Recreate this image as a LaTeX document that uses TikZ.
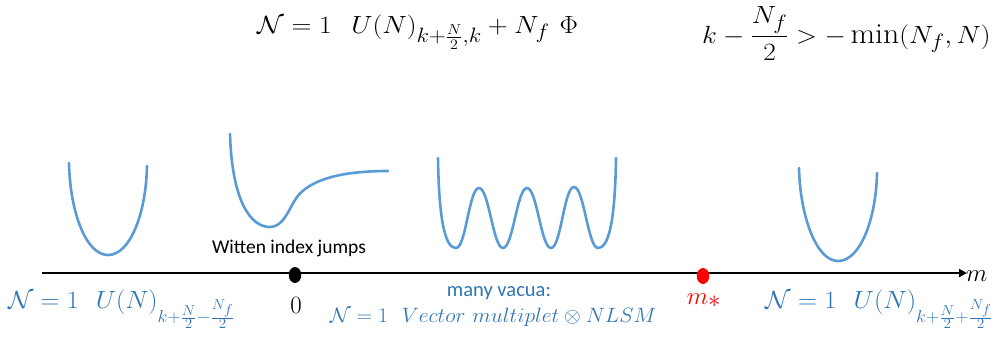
\documentclass[tikz,border=0pt]{standalone}
\usepackage{amsmath}
\usepackage{graphicx}
\usepackage{fontspec}
\newfontfamily\carlito{Carlito}
\usetikzlibrary{arrows.meta,shapes.geometric}
\definecolor{curveblue}{HTML}{5B9BD5}
\definecolor{textblue}{HTML}{2E75B6}
\definecolor{dotred}{HTML}{FF0000}
\tikzset{
  pot/.style={draw=curveblue,line width=2.6pt,line cap=round},
  axisline/.style={line width=2.2pt,-{Triangle[length=8pt,width=8pt]}},
  dotnode/.style={ellipse,inner sep=0pt,minimum width=12.5pt,minimum height=16pt},
  mathtop/.style={font=\fontsize{29}{34}\selectfont,anchor=base west,inner sep=0pt},
  bluelabel/.style={font=\fontsize{27}{32}\selectfont,text=textblue,anchor=base west,inner sep=0pt},
}
\begin{document}
\begin{tikzpicture}[x=1pt,y=-1pt]
\useasboundingbox (0,0) rectangle (999,341);
% top formulas
\node[mathtop] (f1) at (257,33) {\scalebox{1.11}[1]{$\mathcal{N}=1\ \ U(N)_{k+\frac{N}{2},k}+N_f\ \Phi$}};
\node[mathtop] (f2) at (702,43) {\scalebox{1.1}[1]{$k-\dfrac{N_f}{2}>-\min(N_f,N)$}};
% axis
\coordinate (axstart) at (42,273);
\coordinate (axend) at (967,273);
\draw[axisline] (axstart) -- (axend);
\node[anchor=west,inner sep=0pt,font=\fontsize{32}{36}\selectfont] (mlab) at (966,276) {$m$};
% dots
\node[dotnode,fill=black] (zero) at (295,275) {};
\node[dotnode,fill=dotred] (mstar) at (703,276) {};
\node[anchor=base,inner sep=0pt,font=\fontsize{31}{34}\selectfont] (zlab) at (296,313) {$0$};
\node[anchor=base,inner sep=0pt,text=dotred,font=\fontsize{33}{36}\selectfont] (mslab) at (704,304) {$m_*$};
% labels
\node[anchor=center,inner sep=0pt,font=\carlito\fontsize{19.5}{22}\selectfont] (witten) at (289,248) {Witten index jumps};
\node[anchor=center,inner sep=0pt,text=textblue,font=\carlito\fontsize{20.5}{24}\selectfont] (vacua) at (499,293) {many vacua:};
\node[anchor=base,inner sep=0pt,text=textblue,font=\fontsize{22}{26}\selectfont] (vec) at (493,322) {\scalebox{1.04}[1]{$\mathcal{N}=1\ \ Vector\ multiplet\otimes NLSM$}};
\node[bluelabel] (left) at (8,308) {\scalebox{1.05}[1]{$\mathcal{N}=1\ \ U(N)_{k+\frac{N}{2}-\frac{N_f}{2}}$}};
\node[bluelabel] (right) at (765,308) {\scalebox{1.06}[1]{$\mathcal{N}=1\ \ U(N)_{k+\frac{N}{2}+\frac{N_f}{2}}$}};
% potentials
\draw[pot] (69,163) .. controls (70,212) and (86,255) .. (108,255)
  .. controls (130,255) and (146,214) .. (147,166);
\draw[pot] (230,134) .. controls (232,200) and (250,227) .. (270,227)
  .. controls (284,227) and (289,208) .. (297,197)
  .. controls (310,180) and (340,171) .. (388,171);
\draw[pot] (438,158) .. controls (439,225) and (446,248) .. (456,248)
  .. controls (466,248) and (469,188) .. (479,188)
  .. controls (489,188) and (493,248) .. (503,248)
  .. controls (513,248) and (517,188) .. (527,188)
  .. controls (537,188) and (541,248) .. (551,248)
  .. controls (561,248) and (564,187) .. (574,187)
  .. controls (584,187) and (588,248) .. (598,248)
  .. controls (608,248) and (615,225) .. (616,158);
\draw[pot] (799,168) .. controls (800,215) and (816,261) .. (838,261)
  .. controls (860,261) and (876,220) .. (877,173);
\end{tikzpicture}
\end{document}
